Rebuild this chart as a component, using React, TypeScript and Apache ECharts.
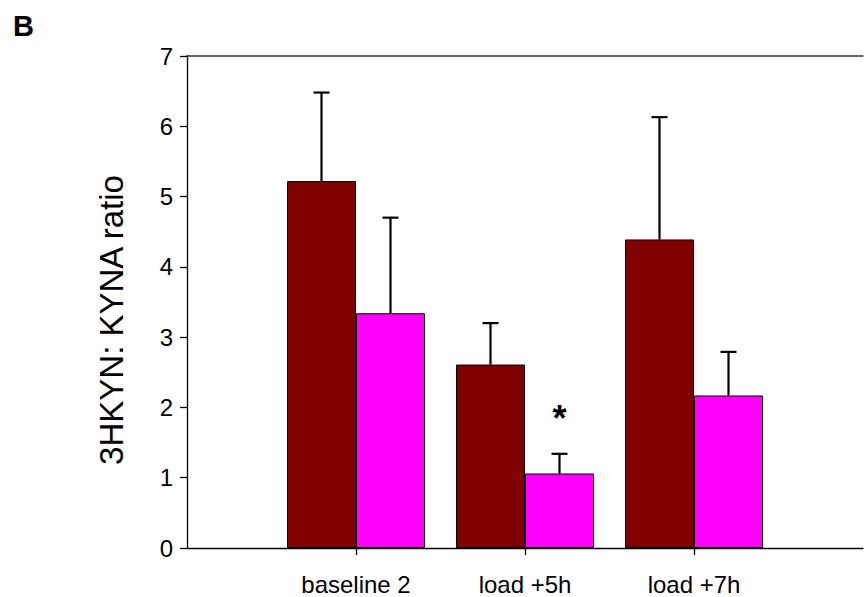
import React, { useEffect, useRef } from "react";
import * as echarts from "echarts";

// Groups along the x axis (blank slots pad the axis at both ends)
const categories = ["", "baseline 2", "load +5h", "load +7h", ""];
// Mean ratio per group
const darkMeans = [null, 5.22, 2.61, 4.39, null];
const pinkMeans = [null, 3.34, 1.06, 2.17, null];
// Upper end of each error bar (mean + SEM)
const darkUpper = [null, 6.48, 3.2, 6.13, null];
const pinkUpper = [null, 4.7, 1.34, 2.79, null];
// Significance markers drawn above the error bars
const pinkMarks = ["", "", "*", "", ""];

const FONT = "'Liberation Sans', Arial, Helvetica, sans-serif";
const BAR_W = 69;

function errorSeries(means: (number | null)[], upper: (number | null)[], offset: number, marks?: string[]) {
  const data: number[][] = [];
  means.forEach((m, i) => {
    if (m != null && upper[i] != null) data.push([i, m, upper[i] as number]);
  });
  return {
    type: "custom",
    z: 10,
    data,
    renderItem: (params: any, api: any) => {
      const idx = api.value(0);
      const base = api.coord([idx, api.value(1)]);
      const top = api.coord([idx, api.value(2)]);
      const x = base[0] + offset;
      const children: any[] = [
        {
          type: "line",
          shape: { x1: x, y1: base[1], x2: x, y2: top[1] },
          style: { stroke: "#000", lineWidth: 2.2 },
        },
        {
          type: "line",
          shape: { x1: x - 8, y1: top[1], x2: x + 8, y2: top[1] },
          style: { stroke: "#000", lineWidth: 2.2 },
        },
      ];
      const mark = marks ? marks[idx] : "";
      if (mark) {
        children.push({
          type: "text",
          x: x,
          y: top[1] - 35,
          style: {
            text: mark,
            fontSize: 36,
            fontWeight: "bold",
            fontFamily: FONT,
            fill: "#000",
            align: "center",
            verticalAlign: "middle",
          },
        });
      }
      return { type: "group", children };
    },
  };
}

export default function App() {
  const ref = useRef<HTMLDivElement>(null);

  useEffect(() => {
    if (!ref.current) return;
    const chart = echarts.init(ref.current, null, { renderer: "svg" });
    chart.setOption({
      animation: false,
      backgroundColor: "#fff",
      title: {
        text: "B",
        left: 8,
        top: 6,
        textStyle: { fontSize: 29, fontWeight: "bold", fontFamily: FONT, color: "#000" },
      },
      grid: { left: 187, top: 56, bottom: 49, width: 683 },
      xAxis: [
        {
          type: "category",
          data: categories,
          boundaryGap: false,
          axisLine: { lineStyle: { color: "#000", width: 1.3 } },
          axisTick: {
            length: 7,
            interval: (i: number) => i > 0 && i < categories.length - 1,
            lineStyle: { color: "#000", width: 1.3 },
          },
          axisLabel: {
            interval: 0,
            margin: 24,
            fontSize: 24,
            fontFamily: FONT,
            color: "#000",
          },
          splitLine: { show: false },
        },
        {
          type: "category",
          position: "top",
          data: categories,
          boundaryGap: false,
          axisLine: { lineStyle: { color: "#333", width: 1.5 } },
          axisTick: { show: false },
          axisLabel: { show: false },
          splitLine: { show: false },
        },
      ],
      yAxis: {
        type: "value",
        min: 0,
        max: 7,
        interval: 1,
        name: "3HKYN: KYNA ratio",
        nameLocation: "middle",
        nameGap: 59,
        nameRotate: 90,
        nameTextStyle: { fontSize: 33, fontFamily: FONT, color: "#000", padding: [0, 36, 0, 0] },
        axisLine: { show: true, lineStyle: { color: "#000", width: 1.3 } },
        axisTick: { show: true, length: 7, lineStyle: { color: "#000", width: 1.3 } },
        axisLabel: { margin: 14, fontSize: 24, fontFamily: FONT, color: "#000" },
        splitLine: { show: false },
      },
      series: [
        {
          type: "bar",
          data: darkMeans,
          barWidth: BAR_W,
          barGap: "0%",
          itemStyle: { color: "#800000", borderColor: "#000", borderWidth: 1 },
        },
        {
          type: "bar",
          data: pinkMeans,
          barWidth: BAR_W,
          barGap: "0%",
          itemStyle: { color: "#ff00ff", borderColor: "#000", borderWidth: 1 },
        },
        errorSeries(darkMeans, darkUpper, -BAR_W / 2),
        errorSeries(pinkMeans, pinkUpper, BAR_W / 2, pinkMarks),
      ],
    });
    return () => chart.dispose();
  }, []);

  return (
    <div
      ref={ref}
      style={{ position: "fixed", left: 0, top: 0, width: 866, height: 597 }}
    />
  );
}
